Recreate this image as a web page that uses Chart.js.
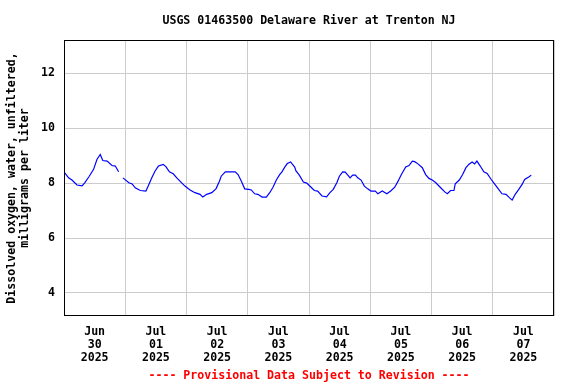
<!DOCTYPE html>
<html>
<head>
<meta charset="utf-8">
<script src="https://cdn.jsdelivr.net/npm/chart.js@4/dist/chart.umd.min.js"></script>
<style>
    html, body { margin: 0; padding: 0; background: #ffffff; }
    #wrap { width: 576px; height: 384px; position: relative; }
</style>
</head>
<body>
<div id="wrap"><canvas id="doChart"></canvas></div>
<script>
// hours since 2025-06-30 00:00 (null = missing record)
const hours = [
    0.3, 1.8, 3.1, 5.1, 7.1, 8.1, 9.7, 11.6, 12.9, 14.2, 15.2, 16.9, 18.8, 20.1, 21.4,
    22.2,
    23.1, 25.4, 26.7, 27.9, 29.9, 32.1, 33.0, 34.4, 35.7, 37.0, 38.9, 40.0, 41.3, 42.8,
    44.2, 46.1, 47.4, 49.4, 51.3, 53.3, 54.4, 55.9, 57.9, 59.6, 60.9, 61.6, 63.2, 64.9,
    67.1, 68.2, 69.5, 70.8, 72.4, 73.4, 74.7, 76.0, 77.6, 79.3, 80.6, 81.9, 83.2, 84.5,
    85.4, 86.5, 87.5, 88.8, 90.4, 90.9, 92.2, 93.8, 95.1, 96.8, 98.1, 99.4, 101.1, 102.9,
    104.2, 105.5, 106.9, 107.9, 109.2, 110.2, 111.2, 112.1, 113.1, 114.2, 115.1, 116.4,
    117.7, 119.0, 120.3, 122.0, 123.0, 124.7, 126.5, 128.0, 129.6, 130.9, 132.2, 133.9,
    135.2, 136.5, 137.4, 138.7, 140.4, 141.7, 143.0, 144.3, 145.7, 147.6, 149.2, 150.2,
    151.5, 152.8, 153.3, 154.9, 156.2, 157.5, 158.6, 159.9, 160.9, 161.8, 163.1, 164.5,
    165.8, 167.4, 168.4, 170.1, 171.6, 173.2, 174.5, 175.6, 176.8, 178.2, 179.5, 180.5,
    182.1, 183.1
];
const doValues = [
    8.37, 8.19, 8.11, 7.93, 7.90, 8.01, 8.22, 8.50, 8.86, 9.04, 8.82, 8.80, 8.64, 8.62, 8.41,
    null,
    8.19, 8.01, 7.97, 7.83, 7.73, 7.71, 7.89, 8.19, 8.44, 8.62, 8.68, 8.59, 8.41, 8.34,
    8.19, 8.01, 7.89, 7.75, 7.65, 7.59, 7.49, 7.59, 7.65, 7.80, 8.07, 8.25, 8.41, 8.41,
    8.41, 8.31, 8.07, 7.79, 7.77, 7.75, 7.61, 7.59, 7.49, 7.49, 7.65, 7.85, 8.11, 8.31,
    8.41, 8.58, 8.71, 8.77, 8.58, 8.44, 8.29, 8.04, 8.00, 7.85, 7.73, 7.71, 7.53, 7.50,
    7.65, 7.77, 8.01, 8.25, 8.41, 8.40, 8.29, 8.19, 8.29, 8.29, 8.19, 8.11,
    7.89, 7.79, 7.71, 7.71, 7.61, 7.71, 7.61, 7.71, 7.85, 8.07, 8.31, 8.59,
    8.64, 8.80, 8.78, 8.70, 8.56, 8.31, 8.17, 8.11, 8.01, 7.83, 7.68, 7.61,
    7.73, 7.73, 7.97, 8.11, 8.31, 8.56, 8.68, 8.77, 8.70, 8.80, 8.62, 8.41,
    8.35, 8.13, 8.01, 7.80, 7.61, 7.59, 7.47, 7.38, 7.59, 7.77, 7.95, 8.13,
    8.22, 8.29
];
const dayLabels = [
    ['Jun', '30', '2025'], ['Jul', '01', '2025'], ['Jul', '02', '2025'], ['Jul', '03', '2025'],
    ['Jul', '04', '2025'], ['Jul', '05', '2025'], ['Jul', '06', '2025'], ['Jul', '07', '2025']
];
const yTicks = [4, 6, 8, 10, 12];

const monoFont = { family: "'DejaVu Sans Mono', monospace", size: 11.6, weight: 'bold', lineHeight: 1.12 };

// 畫出外框
const framePlugin = {
    id: 'frame',
    afterDatasetsDraw(chart) {
        const a = chart.chartArea;
        const c = chart.ctx;
        c.save();
        c.strokeStyle = '#000000';
        c.lineWidth = 1;
        c.strokeRect(Math.round(a.left) + 0.5, Math.round(a.top) + 0.5,
            Math.round(a.right - a.left) - 1, Math.round(a.bottom - a.top) - 1);
        c.restore();
    }
};

function initChart() {
    const ctx = document.getElementById('doChart');
    if (!ctx) return;

    new Chart(ctx, {
        type: 'line',
        data: {
            datasets: [{
                data: hours.map((h, i) => ({ x: h, y: doValues[i] })),
                borderColor: '#0000ff',
                borderWidth: 1.2,
                pointRadius: 0,
                tension: 0,
                spanGaps: false,
                fill: false
            }]
        },
        plugins: [framePlugin],
        options: {
            responsive: true,
            maintainAspectRatio: false,
            animation: false,
            layout: { padding: { left: 0, right: 22, top: 0, bottom: 0 } },
            plugins: {
                legend: { display: false },
                tooltip: { enabled: false },
                title: {
                    display: true,
                    fullSize: false,
                    text: 'USGS 01463500 Delaware River at Trenton NJ',
                    color: '#000000',
                    font: monoFont,
                    padding: { top: 14, bottom: 13 }
                },
                subtitle: {
                    display: true,
                    fullSize: false,
                    position: 'bottom',
                    text: '---- Provisional Data Subject to Revision ----',
                    color: '#ff0000',
                    font: monoFont,
                    padding: { top: 6, bottom: 2 }
                }
            },
            scales: {
                x: {
                    type: 'linear',
                    min: 0,
                    max: 192,
                    afterFit: s => { s.height = 47; },
                    afterBuildTicks: s => {
                        s.ticks = [];
                        for (let v = 0; v <= 192; v += 12) s.ticks.push({ value: v });
                    },
                    border: { display: false },
                    grid: {
                        drawTicks: false,
                        color: c => (c.tick && c.tick.value % 24 === 0) ? '#cccccc' : 'rgba(0,0,0,0)'
                    },
                    ticks: {
                        autoSkip: false,
                        maxRotation: 0,
                        padding: 9,
                        color: '#000000',
                        font: monoFont,
                        callback: v => (v % 24 === 12) ? dayLabels[(v - 12) / 24] : ''
                    }
                },
                y: {
                    min: 3.16,
                    max: 13.21,
                    afterFit: s => { s.width = 64; },
                    afterBuildTicks: s => { s.ticks = yTicks.map(v => ({ value: v })); },
                    border: { display: false },
                    grid: { drawTicks: false, color: '#cccccc' },
                    ticks: { padding: 9, color: '#000000', font: monoFont },
                    title: {
                        display: true,
                        text: ['Dissolved oxygen, water, unfiltered,', 'milligrams per liter'],
                        color: '#000000',
                        font: monoFont,
                        padding: { top: 5, bottom: 0 }
                    }
                }
            }
        }
    });
}

document.addEventListener("DOMContentLoaded", () => {
    initChart();
});
</script>
</body>
</html>
